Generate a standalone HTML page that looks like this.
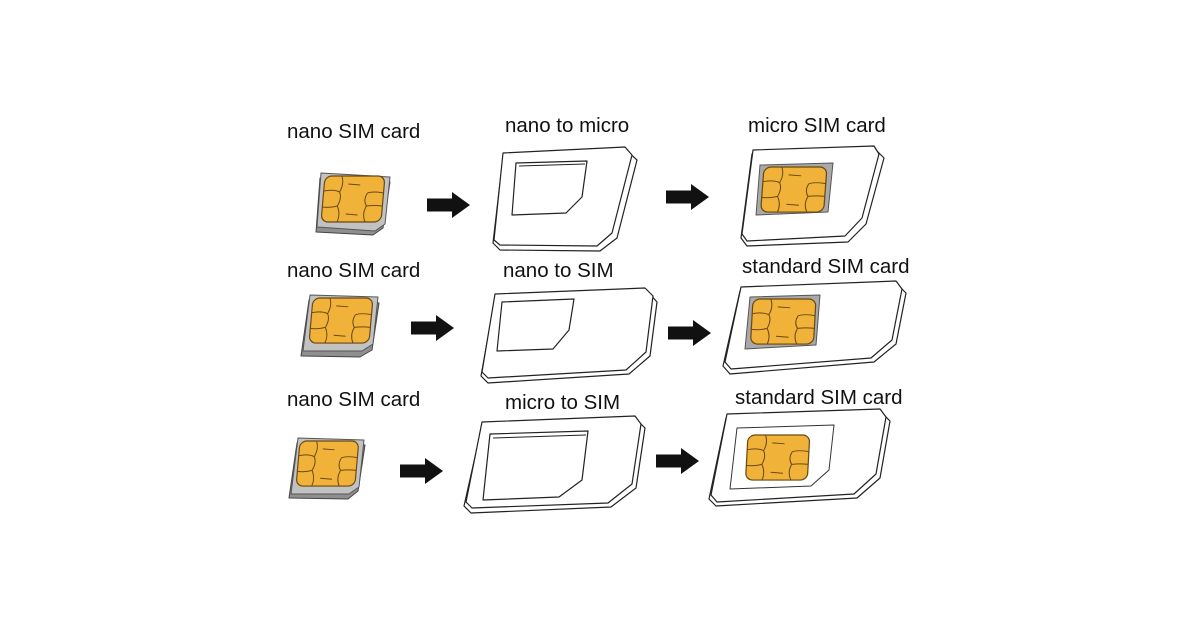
<!DOCTYPE html>
<html><head><meta charset="utf-8"><style>
html,body{margin:0;padding:0;background:#fff;}
svg{display:block;}
text{font-family:"Liberation Sans",Arial,sans-serif;font-size:20.5px;fill:#111;}
polygon{stroke-linejoin:round;}
</style></head><body>
<svg width="1200" height="630" viewBox="0 0 1200 630" xmlns="http://www.w3.org/2000/svg">
<defs>
<g id="chip">
<rect x="0" y="0" width="60" height="46" rx="7" fill="#f1b23a" stroke="#6a4a12" stroke-width="1.2"/>
<path d="M0 15 Q10 13 16 16 Q19 22 15 30 Q8 32 0 31 M15 30 Q19 38 16 46 M16 16 Q20 8 17 0 M44 17 Q50 15 60 17 M44 17 Q40 24 44 30 Q52 29 60 30 M44 30 Q40 38 44 46 M24 8 L36 9 M24 38 L36 39" fill="none" stroke="#6a4a12" stroke-width="1"/>
</g>
<g id="arrow"><polygon points="0,-6.5 25,-6.5 25,-13 43,0 25,13 25,6.5 0,6.5" fill="#111"/></g>
</defs>

<text x="287" y="138">nano SIM card</text>
<text x="505" y="132">nano to micro</text>
<text x="748" y="132">micro SIM card</text>
<text x="287" y="277">nano SIM card</text>
<text x="503" y="277">nano to SIM</text>
<text x="742" y="273">standard SIM card</text>
<text x="287" y="406">nano SIM card</text>
<text x="505" y="409">micro to SIM</text>
<text x="735" y="404">standard SIM card</text>

<!-- ROW 1 -->
<polygon points="320,178 390,182 383,228 373,235 316,232" fill="#8f8f8f" stroke="#444" stroke-width="1"/>
<polygon points="321,173 390,177 385,224 375,231 317,227" fill="#c2c2c2" stroke="#555" stroke-width="1"/>
<use href="#chip" transform="translate(325,176) scale(1.0,1.0) skewX(-5)"/>
<use href="#arrow" transform="translate(427,205)"/>
<polygon points="503,157 627,151 637,160 617,238 600,251 500,250 493,243" fill="#fff" stroke="#222" stroke-width="1.2"/>
<polygon points="503,153 625,147 632,155 612,233 597,246 500,245 494,240" fill="#fff" stroke="#222" stroke-width="1.2"/>
<polygon points="516,163 587,161 582,197 566,213 512,215" fill="#fff" stroke="#222" stroke-width="1.2"/>
<polyline points="519,166 585,164" fill="none" stroke="#222"/>
<use href="#arrow" transform="translate(666,197)"/>
<polygon points="752,154 876,150 884,158 866,224 848,242 747,246 741,238" fill="#fff" stroke="#222" stroke-width="1.2"/>
<polygon points="753,150 874,146 879,154 862,218 845,236 747,241 742,234" fill="#fff" stroke="#222" stroke-width="1.2"/>
<polygon points="760,165 833,163 828,212 756,215" fill="#a9a9a9" stroke="#555" stroke-width="1"/>
<use href="#chip" transform="translate(764,167) scale(1.05,0.98) skewX(-4)"/>

<!-- ROW 2 -->
<polygon points="309,300 379,303 372,350 360,357 301,356" fill="#8f8f8f" stroke="#444" stroke-width="1"/>
<polygon points="310,295 378,297 373,344 362,351 303,351" fill="#c2c2c2" stroke="#555" stroke-width="1"/>
<use href="#chip" transform="translate(313,298) scale(1.0,0.98) skewX(-5)"/>
<use href="#arrow" transform="translate(411,328)"/>
<polygon points="495,298 648,292 657,302 650,356 629,374 488,383 481,376" fill="#fff" stroke="#222" stroke-width="1.2"/>
<polygon points="495,294 645,288 653,296 646,352 626,370 488,378 482,372" fill="#fff" stroke="#222" stroke-width="1.2"/>
<polygon points="502,302 574,299 569,330 553,349 497,351" fill="#fff" stroke="#222" stroke-width="1.2"/>
<use href="#arrow" transform="translate(668,333)"/>
<polygon points="740,291 898,285 906,293 896,344 874,362 730,374 723,366" fill="#fff" stroke="#222" stroke-width="1.2"/>
<polygon points="741,287 896,281 902,289 892,340 871,358 731,369 725,362" fill="#fff" stroke="#222" stroke-width="1.2"/>
<polygon points="750,297 820,295 816,345 745,349" fill="#a9a9a9" stroke="#555" stroke-width="1"/>
<use href="#chip" transform="translate(753,299) scale(1.05,0.98) skewX(-3)"/>

<!-- ROW 3 -->
<polygon points="297,443 365,445 358,491 348,499 289,498" fill="#8f8f8f" stroke="#444" stroke-width="1"/>
<polygon points="298,438 364,440 359,487 349,494 291,494" fill="#c2c2c2" stroke="#555" stroke-width="1"/>
<use href="#chip" transform="translate(300,441) scale(0.98,0.98) skewX(-5)"/>
<use href="#arrow" transform="translate(400,471)"/>
<polygon points="482,426 637,420 645,428 636,488 611,507 471,513 464,506" fill="#fff" stroke="#222" stroke-width="1.2"/>
<polygon points="482,422 635,416 641,424 632,484 608,503 472,508 466,502" fill="#fff" stroke="#222" stroke-width="1.2"/>
<polygon points="490,434 588,431 582,480 559,497 483,500" fill="#fff" stroke="#222" stroke-width="1.2"/>
<polyline points="493,438 586,435" fill="none" stroke="#222"/>
<use href="#arrow" transform="translate(656,461)"/>
<polygon points="726,418 882,413 890,421 880,478 857,498 716,506 709,499" fill="#fff" stroke="#222" stroke-width="1.2"/>
<polygon points="727,414 880,409 886,417 876,474 854,494 717,502 711,495" fill="#fff" stroke="#222" stroke-width="1.2"/>
<polygon points="737,428 834,425 829,470 811,486 730,489" fill="#fff" stroke="#333" stroke-width="1"/>
<use href="#chip" transform="translate(748,435) scale(1.03,0.98) skewX(-3)"/>
</svg>
</body></html>
